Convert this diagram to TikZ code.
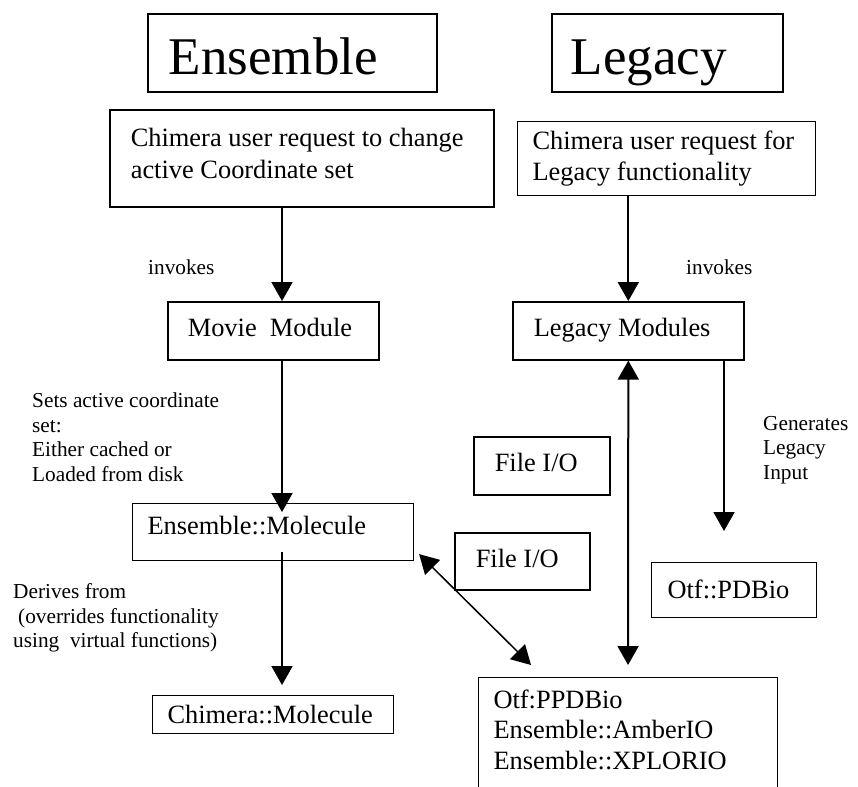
\documentclass[tikz,border=0pt]{standalone}
\usepackage{fontspec}
\setmainfont{Liberation Serif}
\usetikzlibrary{arrows.meta, positioning}

\begin{document}
\begin{tikzpicture}[
    x=1pt, y=-1pt,
    box/.style={draw, line width=1.6pt, anchor=north west, align=flush left, inner ysep=0pt, font=\fontsize{26.4}{31.5}\selectfont},
    light/.style={line width=1.1pt},
    oneline/.style={text height=18pt, text depth=6pt},
    title/.style={box, text height=44pt, text depth=0pt, font=\fontsize{53}{60}\selectfont},
    note/.style={anchor=west, align=left, inner sep=0pt, font=\fontsize{21.3}{24.5}\selectfont},
    arrow/.style={-{Triangle[length=19pt, width=21pt]}, line width=2pt},
    both/.style={{Triangle[length=19pt, width=21pt]}-{Triangle[length=19pt, width=21pt]}, line width=2pt}
]
\useasboundingbox (0,0) rectangle (858,786);
\clip (0,0) rectangle (858,786);

\node[title, inner xsep=21pt, text width=247pt, minimum height=78pt] (ensTitle) at (147,13) {Ensemble};
\node[title, inner xsep=19pt, text width=193pt, minimum height=78pt] (legTitle) at (551,13) {Legacy};

\node[box, inner xsep=21pt, text width=342pt, minimum height=97pt] (ensReq) at (109,109) {Chimera user request to change\\active Coordinate set\strut};
\node[box, light, inner xsep=15pt, text width=268pt, minimum height=74pt] (legReq) at (517,121) {Chimera user request for\\Legacy functionality};
\node[box, oneline, inner xsep=20pt, text width=171pt, minimum height=58pt] (movie) at (167,301) {Movie\ \ Module};
\node[box, oneline, inner xsep=21pt, text width=189pt, minimum height=58pt] (legMod) at (512,301) {Legacy Modules};
\node[box, oneline, inner xsep=21pt, text width=94pt, minimum height=58pt] (fileA) at (473,436) {File I/O};
\node[box, oneline, inner xsep=21pt, text width=93pt, minimum height=57pt] (fileB) at (454,532) {File I/O};
\node[box, light, oneline, text depth=13pt, inner xsep=15pt, text width=251pt, minimum height=57pt] (ensMol) at (132,503) {Ensemble::Molecule};
\node[box, light, oneline, text depth=2pt, inner xsep=16pt, text width=133pt, minimum height=55pt] (otfPdb) at (651,562) {Otf::PDBio};
\node[box, light, oneline, text depth=0pt, inner xsep=15pt, text width=211pt, minimum height=38pt] (chiMol) at (152,695) {Chimera::Molecule};
\node[box, light, inner xsep=15pt, inner ysep=12pt, text width=269pt, text depth=80pt, font=\fontsize{26.4}{30.5}\selectfont] (ioBox) at (478,677) {Otf:PPDBio\\Ensemble::AmberIO\\Ensemble::XPLORIO};

% labels beside the arrows
\node[note] (invL) at (148,267) {invokes};
\node[note] (invR) at (686,267) {invokes};
\node[note] (setsLbl) at (32,437) {Sets active coordinate\\set:\\Either cached or\\Loaded from disk};
\node[note] (genLbl) at (763,450) {Generates\\Legacy\\Input};
\node[note] (derLbl) at (13,618) {Derives from\\\hspace*{5pt}(overrides functionality\\using\ \ virtual functions)};

\coordinate (spineL) at (282,0);
\coordinate (spineR) at (724,0);

\draw[arrow] (ensReq.south -| spineL) -- (movie.north -| spineL);
\draw[arrow, shorten >=-9pt] (movie.south -| spineL) -- (ensMol.north -| spineL);
\draw[arrow, shorten <=-9pt, shorten >=10pt] (ensMol.south -| spineL) -- (chiMol.north -| spineL);
\draw[arrow] (legReq.south -| legMod.north) -- (legMod.north);
\draw[both, shorten >=12pt] (legMod.south) -- (ioBox.north);
\draw[arrow, shorten >=31pt] (legMod.south -| spineR) -- (otfPdb.north -| spineR);
\draw[both, line width=1.5pt] ([shift={(5,-7)}]ensMol.south east) -- ([shift={(53,-12)}]ioBox.north west);
\end{tikzpicture}
\end{document}
